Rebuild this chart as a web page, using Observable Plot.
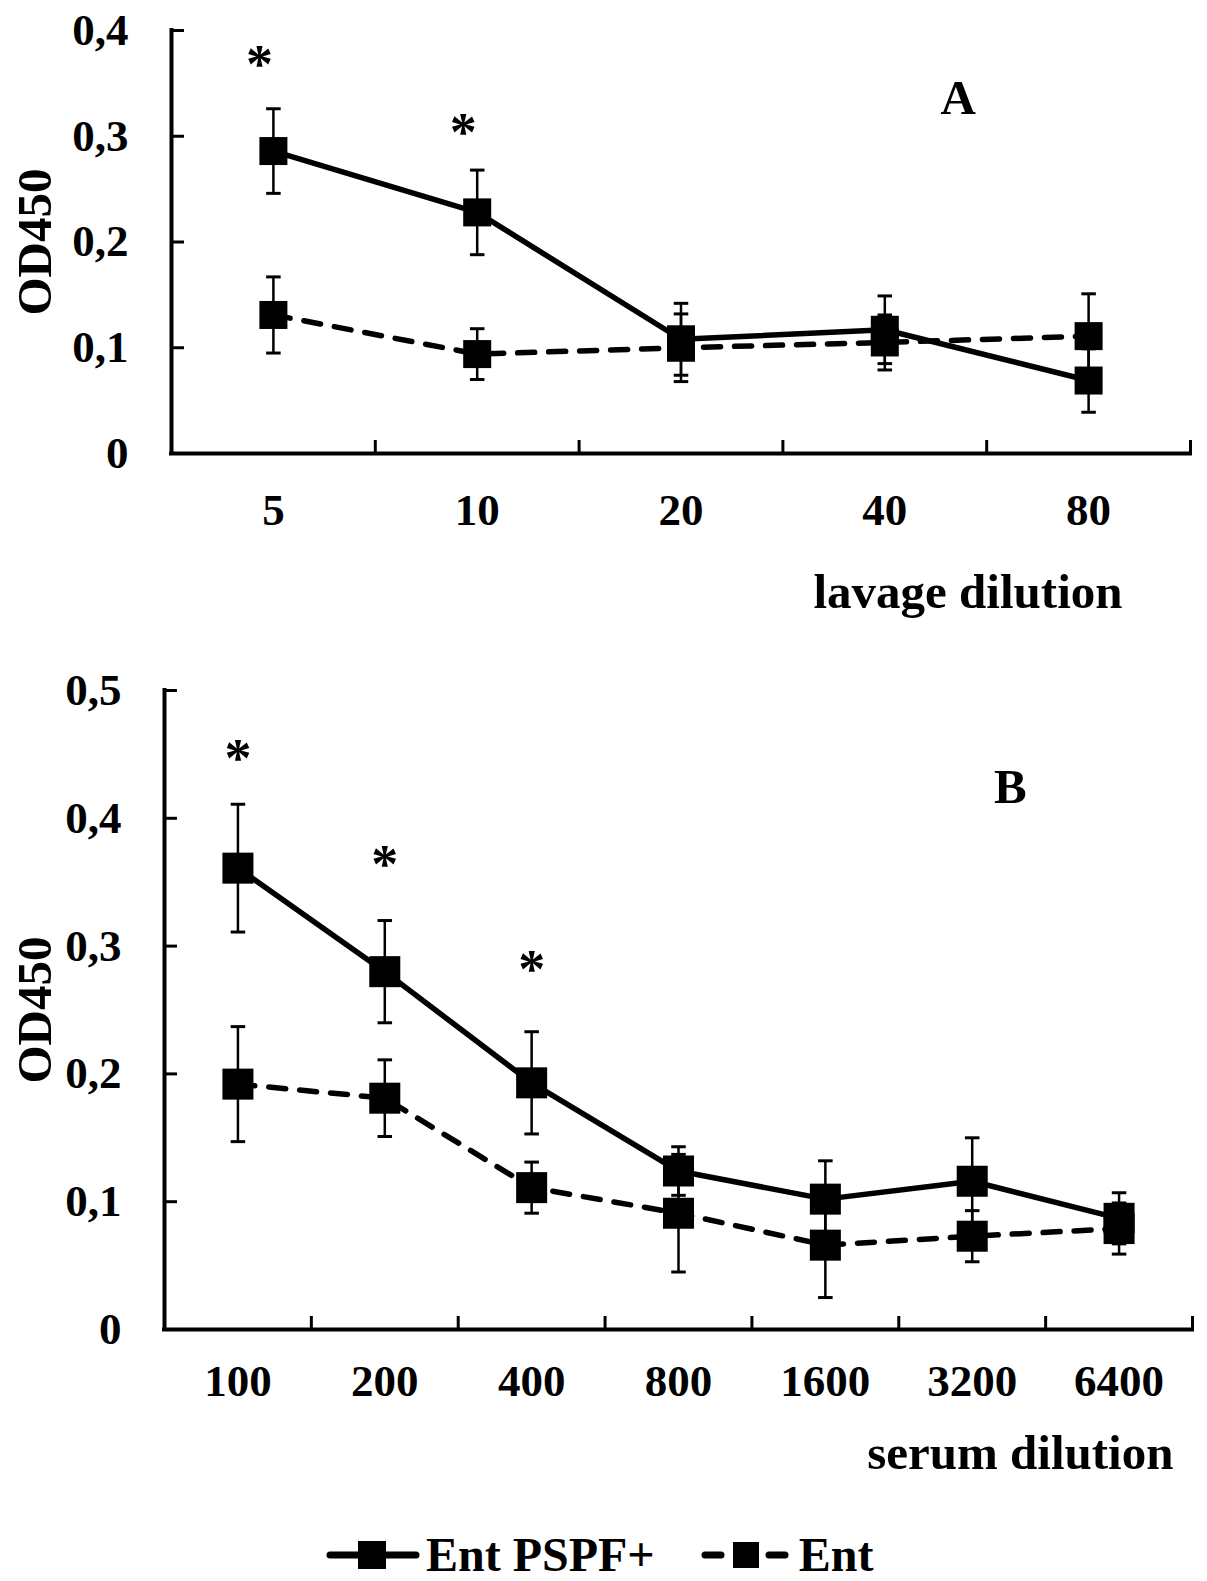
<!DOCTYPE html>
<html>
<head>
<meta charset="utf-8">
<script src="https://cdn.jsdelivr.net/npm/d3@7"></script>
<script src="https://cdn.jsdelivr.net/npm/@observablehq/plot@0.6"></script>
<style>
  body { margin: 0; background: #fff; }
  #wrap { position: relative; width: 1207px; height: 1581px; background: #fff; overflow: hidden;
          font-family: "Liberation Serif", "Times New Roman", serif; font-weight: bold; color: #000; }
  #panelA { position: absolute; left: 0; top: 0; }
  #panelB { position: absolute; left: 0; top: 640px; }
  #legend { position: absolute; left: 326px; top: 1534px; height: 42px; line-height: 1;
            display: flex; align-items: center; font-size: 48px; white-space: nowrap; }
  .item { display: flex; align-items: center; }
  .item svg { display: block; }
</style>
</head>
<body>
<div id="wrap">
  <div id="panelA"></div>
  <div id="panelB"></div>
  <div id="legend"></div>
</div>
<script>
// ---------- data ----------
const seriesNames = ["Ent PSPF+", "Ent"];

// Panel A: lavage dilution
const lavageDilutions = ["5", "10", "20", "40", "80"];
const lavagePSPF      = [0.286, 0.228, 0.108, 0.117, 0.069];
const lavagePSPFErr   = [0.040, 0.040, 0.034, 0.032, 0.030];
const lavageEnt       = [0.131, 0.094, 0.100, 0.105, 0.111];
const lavageEntErr    = [0.036, 0.024, 0.032, 0.026, 0.040];
const lavageStars     = [{cat: "5", y: 0.378}, {cat: "10", y: 0.314}];
const lavageYTicks    = [0, 0.1, 0.2, 0.3, 0.4];
const lavageLetter    = {text: "A", pos: 3.36, y: 0.336};

// Panel B: serum dilution
const serumDilutions  = ["100", "200", "400", "800", "1600", "3200", "6400"];
const serumPSPF       = [0.361, 0.280, 0.193, 0.124, 0.102, 0.116, 0.087];
const serumPSPFErr    = [0.050, 0.040, 0.040, 0.019, 0.030, 0.034, 0.020];
const serumEnt        = [0.192, 0.181, 0.111, 0.091, 0.066, 0.073, 0.079];
const serumEntErr     = [0.045, 0.030, 0.020, 0.046, 0.041, 0.020, 0.020];
const serumStars      = [{cat: "100", y: 0.455}, {cat: "200", y: 0.372}, {cat: "400", y: 0.290}];
const serumYTicks     = [0, 0.1, 0.2, 0.3, 0.4, 0.5];
const serumLetter     = {text: "B", pos: 5.26, y: 0.424};

const yLabel = "OD450";
const FONT = '"Liberation Serif", "Times New Roman", serif';

// ---------- helpers ----------
const fmtComma = d => d === 0 ? "0" : d.toFixed(1).replace(".", ",");
const capSymbol = {
  draw(context, size) {
    const w = Math.sqrt(size) / 2;
    context.moveTo(-w, 0);
    context.lineTo(w, 0);
  }
};

function panel(cfg) {
  const {cats, pspf, pspfErr, ent, entErr, stars, starDx, letter, yTicks, xLabel,
         height, mt, mb, ml, mr, r, labelDy, labelDx, yLabelDx, xPad} = cfg;
  const rows = [];
  cats.forEach((c, i) => {
    rows.push({s: seriesNames[0], i, v: pspf[i], e: pspfErr[i]});
    rows.push({s: seriesNames[1], i, v: ent[i], e: entErr[i]});
  });
  const solid = rows.filter(d => d.s === seriesNames[0]);
  const dashed = rows.filter(d => d.s === seriesNames[1]);
  const xDomain = [-0.5, cats.length - 0.5];
  const bounds = d3.range(cats.length + 1).map(k => k - 0.5);
  const yMax = yTicks[yTicks.length - 1];
  const starRows = stars.map(s => ({i: cats.indexOf(s.cat), y: s.y}));
  const TICK = 13;

  return Plot.plot({
    width: 1207, height,
    marginTop: mt, marginBottom: mb, marginLeft: ml, marginRight: mr,
    style: {fontFamily: FONT, fontWeight: "bold", fontSize: "45px", color: "#000",
            background: "#fff", overflow: "visible"},
    x: {domain: xDomain, axis: null},
    y: {domain: [0, yMax], axis: null},
    marks: [
      Plot.line(solid, {x: "i", y: "v", stroke: "#000", strokeWidth: 5.5}),
      Plot.line(dashed, {x: "i", y: "v", stroke: "#000", strokeWidth: 5.5,
                         strokeDasharray: "17,14", strokeLinecap: "round"}),
      Plot.ruleX(rows, {x: "i", y1: d => d.v - d.e, y2: d => d.v + d.e, stroke: "#000", strokeWidth: 2.5}),
      Plot.dot(rows, {x: "i", y: d => d.v + d.e, symbol: capSymbol, r: 8.2, stroke: "#000", strokeWidth: 3, fill: "none"}),
      Plot.dot(rows, {x: "i", y: d => d.v - d.e, symbol: capSymbol, r: 8.2, stroke: "#000", strokeWidth: 3, fill: "none"}),
      Plot.dot(rows, {x: "i", y: "v", symbol: "square", r, fill: "#000", stroke: "none"}),
      Plot.ruleY([0], {stroke: "#000", strokeWidth: 4, strokeLinecap: "square"}),
      Plot.ruleX([xDomain[0]], {stroke: "#000", strokeWidth: 4, strokeLinecap: "square"}),
      // inward tick marks
      Plot.axisX({ticks: bounds, tickSize: TICK, dy: -TICK, strokeWidth: 3, tickFormat: () => ""}),
      Plot.axisY({ticks: yTicks, tickSize: TICK, dx: TICK, strokeWidth: 3, tickFormat: () => ""}),
      // tick labels
      Plot.axisX({ticks: d3.range(cats.length), tickSize: 0, tickPadding: xPad, tickFormat: i => cats[i]}),
      Plot.axisY({ticks: yTicks, tickSize: 0, tickPadding: 43, tickFormat: fmtComma}),
      // titles and annotations
      Plot.text([xLabel], {frameAnchor: "bottom-right", dx: labelDx, dy: labelDy,
                           textAnchor: "end", lineAnchor: "middle", fontSize: 49}),
      Plot.text([yLabel], {frameAnchor: "left", rotate: -90, dx: yLabelDx,
                           textAnchor: "middle", lineAnchor: "middle", fontSize: 49}),
      Plot.text([letter], {x: "pos", y: "y", text: "text", fontSize: 49}),
      Plot.text(starRows, {x: "i", y: "y", text: () => "*", dx: starDx, dy: 11, fontSize: 54})
    ]
  });
}

document.getElementById("panelA").appendChild(panel({
  cats: lavageDilutions, pspf: lavagePSPF, pspfErr: lavagePSPFErr, ent: lavageEnt, entErr: lavageEntErr,
  stars: lavageStars, starDx: -14, letter: lavageLetter, yTicks: lavageYTicks, xLabel: "lavage dilution",
  height: 640, mt: 30, mb: 187, ml: 171, mr: 17, r: 15.8, labelDy: 139, labelDx: -68, yLabelDx: -136, xPad: 40
}));

document.getElementById("panelB").appendChild(panel({
  cats: serumDilutions, pspf: serumPSPF, pspfErr: serumPSPFErr, ent: serumEnt, entErr: serumEntErr,
  stars: serumStars, starDx: 0, letter: serumLetter, yTicks: serumYTicks, xLabel: "serum dilution",
  height: 860, mt: 50, mb: 171, ml: 164, mr: 15, r: 17.5, labelDy: 124, labelDx: -19, yLabelDx: -129, xPad: 35
}));

// ---------- legend ----------
const legend = d3.select("#legend");
// solid swatch + label
const item1 = legend.append("div").attr("class", "item");
const s1 = item1.append("svg").attr("width", 94).attr("height", 40);
s1.append("line").attr("x1", 4).attr("x2", 90).attr("y1", 20).attr("y2", 20)
  .attr("stroke", "#000").attr("stroke-width", 7).attr("stroke-linecap", "round");
s1.append("rect").attr("x", 32).attr("y", 6).attr("width", 28).attr("height", 28).attr("fill", "#000");
item1.append("span").style("margin-left", "6px").text(seriesNames[0]);
// dashed swatch + label
const item2 = legend.append("div").attr("class", "item").style("margin-left", "46px");
const s2 = item2.append("svg").attr("width", 88).attr("height", 40);
[[4, 20], [68, 84]].forEach(([a, b]) =>
  s2.append("line").attr("x1", a).attr("x2", b).attr("y1", 20).attr("y2", 20)
    .attr("stroke", "#000").attr("stroke-width", 7).attr("stroke-linecap", "round"));
s2.append("rect").attr("x", 32).attr("y", 7).attr("width", 26).attr("height", 26).attr("fill", "#000");
item2.append("span").style("margin-left", "10px").text(seriesNames[1]);
</script>
</body>
</html>
